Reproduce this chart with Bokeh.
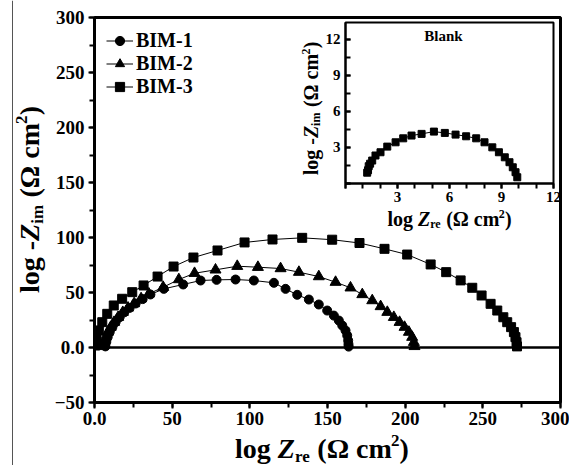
from math import pi
from bokeh.plotting import figure
from bokeh.models import (Range1d, SingleIntervalTicker, Span, Label, Legend, LegendItem)
from bokeh.layouts import column
from bokeh.embed import file_html
from bokeh.resources import INLINE

# ---------------- data ----------------
bim1_x = [7.0, 7.6, 8.5, 9.8, 11.5, 13.6, 16.2, 19.2, 22.6, 26.5, 31.0, 36.0, 44.6, 57.1,
          68.3, 78.6, 90.8, 102.6, 115.5, 123.0, 130.5, 138.0, 144.4, 149.8, 154.1, 157.3,
          159.5, 161.6, 162.7, 163.3, 163.5, 163.6]
bim1_y = [1.0, 5.0, 9.5, 14.0, 18.5, 23.0, 27.5, 32.0, 36.0, 40.0, 44.0, 48.2, 53.3, 57.3,
          60.9, 61.5, 61.8, 60.9, 58.8, 53.3, 47.9, 43.6, 39.1, 33.6, 29.0, 24.5,
          20.0, 15.5, 10.9, 6.4, 3.0, 0.8]

bim2_x = [5.5, 6.2, 7.2, 8.6, 10.4, 12.6, 15.2, 18.2, 21.6, 25.5, 30.0, 35.0, 44.2, 54.3,
          64.4, 77.9, 91.9, 105.2, 119.8, 131.6, 144.4, 155.2, 164.8, 172.4, 178.8, 184.2,
          188.5, 192.7, 196.4, 199.6, 202.4, 204.5, 205.6, 206.0]
bim2_y = [1.0, 5.0, 9.5, 14.0, 18.5, 23.0, 27.5, 32.0, 36.0, 40.0, 44.5, 48.8, 54.8, 61.8,
          67.5, 70.6, 73.9, 73.0, 71.8, 68.5, 64.5, 59.4, 54.3, 48.2, 42.7, 37.3,
          32.1, 27.5, 23.0, 18.5, 14.0, 9.4, 4.8, 1.0]

bim3_x = [0.5, 1.3, 2.8, 5.0, 8.2, 12.4, 17.8, 24.3, 31.6, 40.6, 50.9, 63.7, 79.2, 96.6,
          114.6, 133.7, 153.0, 170.6, 186.7, 201.3, 216.4, 226.4, 235.7, 243.2, 249.2,
          255.0, 259.3, 263.2, 265.7, 268.2, 270.0, 271.0, 271.7, 272.0]
bim3_y = [1.8, 7.9, 15.5, 23.0, 30.6, 38.2, 44.3, 50.3, 56.4, 64.5, 73.6, 81.8, 88.2, 95.5,
          98.2, 99.7, 98.0, 95.0, 89.7, 84.5, 75.5, 68.5, 61.0, 54.3, 47.3,
          39.7, 33.6, 27.5, 23.0, 18.5, 14.0, 9.4, 4.8, 1.0]

blank_x = [1.25, 1.30, 1.34, 1.42, 1.54, 1.73, 2.02, 2.41, 2.89, 3.33, 3.81, 4.39, 5.10,
           5.73, 6.35, 6.96, 7.54, 8.02, 8.47, 8.85, 9.19, 9.46, 9.65, 9.81, 9.91]
blank_y = [0.90, 1.10, 1.44, 1.65, 1.91, 2.33, 2.60, 3.07, 3.43, 3.76, 3.99, 4.13, 4.32,
           4.21, 4.07, 3.93, 3.76, 3.43, 3.01, 2.60, 2.18, 1.77, 1.35, 0.94, 0.52]

series_names = ["BIM-1", "BIM-2", "BIM-3"]
series_markers = ["circle", "triangle", "square"]
inset_title = "Blank"

SERIF = "Liberation Serif"
W, H = 569, 465
BL, BR = 94, 9   # left / right borders shared by every plot of the column

# ---------------- helpers ----------------
ADV = {'l': 278, 'o': 500, 'g': 500, ' ': 250, '-': 333, 'Z': 611, 'r': 444, 'e': 444,
       'i': 278, 'm': 833, '(': 333, ')': 333, 'Ω': 768, 'c': 444, '2': 500}


def adv(s, size):
    return sum(ADV.get(c, 500) for c in s) / 1000.0 * size


def compose(fig, parts, cx, cy, size, vertical=False):
    """Title made of pieces; (cx, cy) = centre / baseline in the figure's frame (y up)."""
    small = size * 0.62
    items = []
    total = 0.0
    for t, k in parts:
        fs = small if k in ("sub", "sup") else size
        lead = adv(t[:len(t) - len(t.lstrip())], fs)
        w = adv(t, fs)
        items.append((t.strip(), k, fs, w, lead))
        total += w
    pos = -total / 2.0
    for t, k, fs, w, lead in items:
        shift = -0.14 * size if k == "sub" else (0.40 * size if k == "sup" else 0)
        shift += 0.31 * fs   # baseline correction of the renderer
        style = "bold italic" if k == "it" else "bold"
        kw = dict(text=t, x_units="screen", y_units="screen", text_font=SERIF,
                  text_font_size="%dpx" % round(fs), text_font_style=style,
                  text_color="black", text_align="left", text_baseline="alphabetic")
        if vertical:
            lab = Label(x=cx - shift, y=cy + pos + lead, angle=pi / 2, **kw)
        else:
            lab = Label(x=cx + pos + lead, y=cy + shift, **kw)
        fig.add_layout(lab)
        pos += w


def style_axis(ax, size, tick_in, tick_out, minor_in, minor_out, standoff, lw):
    ax.axis_line_width = lw
    ax.axis_line_color = "black"
    ax.major_tick_line_width = 2
    ax.minor_tick_line_width = 2
    ax.major_tick_line_color = "black"
    ax.minor_tick_line_color = "black"
    ax.major_tick_in = tick_in
    ax.major_tick_out = tick_out
    ax.minor_tick_in = minor_in
    ax.minor_tick_out = minor_out
    ax.major_label_text_font = SERIF
    ax.major_label_text_font_style = "bold"
    ax.major_label_text_font_size = size
    ax.major_label_text_color = "black"
    ax.major_label_standoff = standoff


def overlay(left):
    o = figure(width=W, height=H, x_range=Range1d(0, W - BL - BR), y_range=Range1d(0, H),
               output_backend="svg", toolbar_location=None,
               x_axis_location=None, y_axis_location=None,
               min_border_left=BL, min_border_right=BR, min_border_top=0, min_border_bottom=0)
    o.grid.visible = False
    o.outline_line_color = None
    o.background_fill_alpha = 0
    o.border_fill_alpha = 0
    o.styles = {"position": "absolute", "left": "%dpx" % left, "top": "0px",
                "z-index": "20", "pointer-events": "none"}
    return o


# ---------------- main figure ----------------
p = figure(width=W, height=H, x_range=Range1d(0, 300), y_range=Range1d(-50, 300),
           output_backend="svg", toolbar_location=None,
           min_border_left=BL, min_border_right=BR, min_border_top=17, min_border_bottom=63)
p.grid.visible = False
p.outline_line_color = "black"
p.outline_line_width = 3
p.background_fill_color = "white"
p.border_fill_color = "white"

p.xaxis.ticker = SingleIntervalTicker(interval=50, num_minor_ticks=2)
p.yaxis.ticker = SingleIntervalTicker(interval=50, num_minor_ticks=2)
p.xaxis.major_label_overrides = {0: "0.0"}
p.yaxis.major_label_overrides = {0: "0.0"}
style_axis(p.xaxis[0], "19px", 0, 6, 0, 5, 3, 3)
style_axis(p.yaxis[0], "19px", 0, 6, 0, 5, 4, 3)

p.add_layout(Span(location=0, dimension="width", line_color="black", line_width=2.5))

xs = [bim1_x, bim2_x, bim3_x]
ys = [bim1_y, bim2_y, bim3_y]
sizes = [9, 11, 9]
items = []
for name, mk, x, y, sz in zip(series_names, series_markers, xs, ys, sizes):
    l = p.line(x, y, line_color="black", line_width=1)
    s = p.scatter(x, y, marker=mk, size=sz, fill_color="black", line_color="black")
    items.append(LegendItem(label=name, renderers=[l, s]))

legend = Legend(items=items, location="top_left", margin=12, padding=0, spacing=0,
                glyph_width=27, glyph_height=23, label_height=23, label_standoff=3,
                label_text_font=SERIF, label_text_font_style="bold",
                label_text_font_size="20px", label_text_color="black",
                border_line_color=None, background_fill_alpha=0)
p.add_layout(legend)

# ---------------- inset (frame: x 345..553, y 22..183 in window pixels) ----------------
inset = figure(width=BL + 208 + BR, height=217, x_range=Range1d(0, 12), y_range=Range1d(0, 13.4),
               output_backend="svg", toolbar_location=None,
               min_border_left=BL, min_border_right=BR, min_border_top=3, min_border_bottom=53)
inset.grid.visible = False
inset.outline_line_color = "black"
inset.outline_line_width = 2
inset.background_fill_color = "white"
inset.border_fill_alpha = 0
inset.xaxis.ticker = SingleIntervalTicker(interval=3, num_minor_ticks=3)
inset.yaxis.ticker = SingleIntervalTicker(interval=3, num_minor_ticks=2)
inset.xaxis.major_label_overrides = {0: ""}
inset.yaxis.major_label_overrides = {0: ""}
style_axis(inset.xaxis[0], "15px", 0, 5, 0, 5, 3, 2)
style_axis(inset.yaxis[0], "15px", 5, 0, 5, 0, 5, 2)

inset.line(blank_x, blank_y, line_color="black", line_width=1)
inset.scatter(blank_x, blank_y, marker="square", size=7, fill_color="black", line_color="black")
inset.add_layout(Label(x=98, y=148, x_units="screen", y_units="screen", text=inset_title,
                       text_font=SERIF, text_font_style="bold", text_font_size="15px",
                       text_align="center", text_baseline="middle", text_color="black"))
inset.styles = {"position": "absolute", "left": "%dpx" % (345 - BL), "top": "19px",
                "z-index": "10"}

# ---------------- overlays carrying the axis titles ----------------
title_x = [("log ", "n"), ("Z", "it"), ("re", "sub"), (" (Ω cm", "n"), ("2", "sup"), (")", "n")]
title_y = [("log -", "n"), ("Z", "it"), ("im", "sub"), (" (Ω cm", "n"), ("2", "sup"), (")", "n")]

# A: frame starts at window x = 0 (data units = pixels)
ovA = overlay(-BL)
ovA.add_layout(Span(location=12, dimension="height", line_color="#555555", line_width=1))
compose(ovA, title_y, 38, H - 199, 28, vertical=True)

# B: frame starts at window x = 94
ovB = overlay(0)
compose(ovB, title_x, 321.5 - BL, H - 457, 28)
compose(ovB, title_x, 449 - BL, H - 225, 20)
compose(ovB, title_y, 317 - BL, H - 108, 20, vertical=True)

layout = column(p, inset, ovA, ovB)
open("out.html", "w").write(file_html(layout, INLINE))
